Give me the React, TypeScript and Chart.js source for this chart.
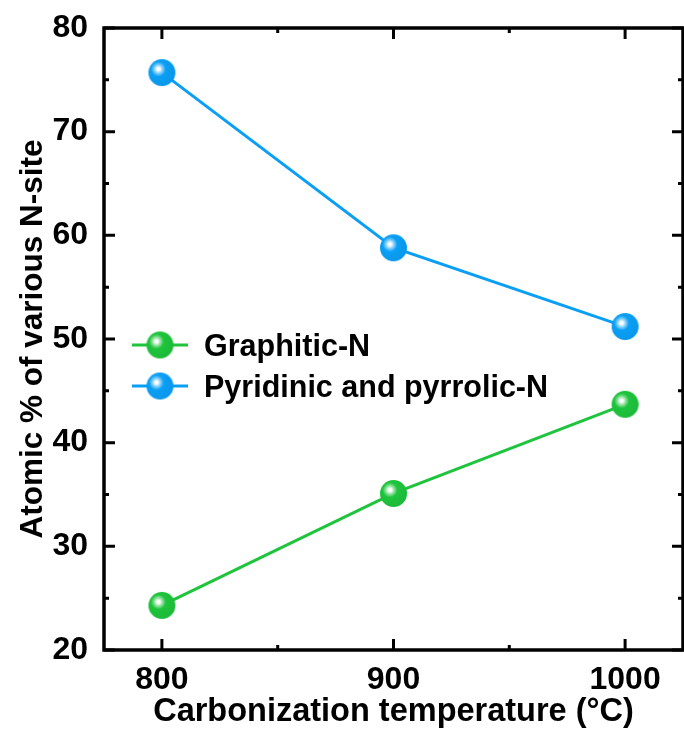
import React, { useEffect, useRef } from "react";
import { Chart, registerables } from "chart.js";

Chart.register(...registerables);

const temperatures = [800, 900, 1000];
const graphiticN = [24.3, 35.1, 43.7];
const pyridinicN = [75.7, 58.8, 51.2];
const seriesLabels = ["Graphitic-N", "Pyridinic and pyrrolic-N"];
const seriesColors = ["#1ec43c", "#0a9ff5"];
const xTickValues = [800, 900, 1000];
const xMinorTicks = [850, 950];
const yTickValues = [20, 30, 40, 50, 60, 70, 80];
const yMinorTicks = [25, 35, 45, 55, 65, 75];
const xTitle = "Carbonization temperature (\u00B0C)";
const yTitle = "Atomic % of various N-site";

const FONT = "'Liberation Sans', Arial, sans-serif";

function lighten(hex: string, amt: number) {
  const n = parseInt(hex.slice(1), 16);
  const r = (n >> 16) & 255, g = (n >> 8) & 255, b = n & 255;
  const f = (c: number) => Math.round(c + (255 - c) * amt);
  return `rgb(${f(r)},${f(g)},${f(b)})`;
}
function darken(hex: string, amt: number) {
  const n = parseInt(hex.slice(1), 16);
  const r = (n >> 16) & 255, g = (n >> 8) & 255, b = n & 255;
  const f = (c: number) => Math.round(c * (1 - amt));
  return `rgb(${f(r)},${f(g)},${f(b)})`;
}

function makeSphere(color: string, radius: number) {
  const size = Math.ceil(radius * 2 + 2);
  const c = document.createElement("canvas");
  c.width = size;
  c.height = size;
  const ctx = c.getContext("2d")!;
  const cx = size / 2, cy = size / 2;
  const g = ctx.createRadialGradient(cx - 3.5, cy - 3.5, 0, cx - 3.5, cy - 3.5, radius * 1.3);
  g.addColorStop(0, "#ffffff");
  g.addColorStop(0.08, "#ffffff");
  g.addColorStop(0.22, lighten(color, 0.55));
  g.addColorStop(0.42, color);
  g.addColorStop(1, darken(color, 0.05));
  ctx.fillStyle = g;
  ctx.beginPath();
  ctx.arc(cx, cy, radius, 0, Math.PI * 2);
  ctx.fill();
  return c;
}

function zeroPad(s: any) {
  s.paddingLeft = 0;
  s.paddingRight = 0;
  s.paddingTop = 0;
  s.paddingBottom = 0;
}

export default function App() {
  const ref = useRef<HTMLCanvasElement | null>(null);
  useEffect(() => {
    document.body.style.margin = "0";
    const canvas = ref.current!;
    const spheres = seriesColors.map((c) => makeSphere(c, 13.5));

    const framePlugin = {
      id: "frame",
      afterDraw(chart: any) {
        const { ctx, chartArea: a } = chart;
        const xs = chart.scales.x, ys = chart.scales.y;
        ctx.save();
        ctx.strokeStyle = "#000";
        ctx.lineWidth = 3;
        ctx.lineCap = "butt";
        const major = 11, minor = 5;
        ctx.beginPath();
        xTickValues.forEach((v) => {
          const p = xs.getPixelForValue(v);
          ctx.moveTo(p, a.bottom); ctx.lineTo(p, a.bottom - major);
          ctx.moveTo(p, a.top); ctx.lineTo(p, a.top + major);
        });
        xMinorTicks.forEach((v) => {
          const p = xs.getPixelForValue(v);
          ctx.moveTo(p, a.bottom); ctx.lineTo(p, a.bottom - minor);
          ctx.moveTo(p, a.top); ctx.lineTo(p, a.top + minor);
        });
        yTickValues.forEach((v) => {
          const p = ys.getPixelForValue(v);
          ctx.moveTo(a.left, p); ctx.lineTo(a.left + major, p);
          ctx.moveTo(a.right, p); ctx.lineTo(a.right - major, p);
        });
        yMinorTicks.forEach((v) => {
          const p = ys.getPixelForValue(v);
          ctx.moveTo(a.left, p); ctx.lineTo(a.left + minor, p);
          ctx.moveTo(a.right, p); ctx.lineTo(a.right - minor, p);
        });
        ctx.stroke();
        ctx.lineWidth = 3.5;
        ctx.strokeRect(a.left, a.top, a.right - a.left, a.bottom - a.top);

        // legend
        const lx0 = 132, lx1 = 188, lcx = 160;
        const ly = [345, 386];
        chart.data.datasets.forEach((ds: any, i: number) => {
          ctx.strokeStyle = ds.borderColor;
          ctx.lineWidth = 3;
          ctx.beginPath();
          ctx.moveTo(lx0, ly[i]);
          ctx.lineTo(lx1, ly[i]);
          ctx.stroke();
          const img = spheres[i];
          ctx.drawImage(img, lcx - img.width / 2, ly[i] - img.height / 2);
          ctx.fillStyle = "#000";
          ctx.font = `bold 30.5px ${FONT}`;
          ctx.textBaseline = "alphabetic";
          ctx.textAlign = "left";
          ctx.fillText(ds.label, 204, ly[i] + 11);
        });
        ctx.restore();
      },
    };

    const chart = new Chart(canvas, {
      type: "line",
      data: {
        datasets: [
          {
            label: seriesLabels[0],
            data: temperatures.map((t, i) => ({ x: t, y: graphiticN[i] })),
            borderColor: seriesColors[0],
            backgroundColor: seriesColors[0],
            borderWidth: 3,
            pointStyle: spheres[0] as any,
            pointRadius: 13,
          },
          {
            label: seriesLabels[1],
            data: temperatures.map((t, i) => ({ x: t, y: pyridinicN[i] })),
            borderColor: seriesColors[1],
            backgroundColor: seriesColors[1],
            borderWidth: 3,
            pointStyle: spheres[1] as any,
            pointRadius: 13,
          },
        ],
      },
      plugins: [framePlugin],
      options: {
        animation: false,
        responsive: false,
        maintainAspectRatio: false,
        layout: { autoPadding: false, padding: { top: 28, right: 1, left: 0, bottom: 0 } },
        plugins: { legend: { display: false }, tooltip: { enabled: false } },
        scales: {
          x: {
            type: "linear",
            min: 775,
            max: 1025,
            afterBuildTicks: (s: any) => {
              s.ticks = xTickValues.map((v) => ({ value: v }));
            },
            afterFit: (s: any) => {
              s.height = 92;
              zeroPad(s);
            },
            grid: { display: false, drawTicks: false },
            border: { display: false },
            ticks: {
              padding: 11,
              color: "#000",
              font: { family: FONT, size: 32, weight: "bold" },
              callback: (v: any) => String(v),
            },
            title: {
              display: true,
              text: xTitle,
              color: "#000",
              font: { family: FONT, size: 32.5, weight: "bold" },
              padding: { top: 0, bottom: 10 },
            },
          },
          y: {
            type: "linear",
            min: 20,
            max: 80,
            afterBuildTicks: (s: any) => {
              s.ticks = yTickValues.map((v) => ({ value: v }));
            },
            afterFit: (s: any) => {
              s.width = 104;
              zeroPad(s);
            },
            grid: { display: false, drawTicks: false },
            border: { display: false },
            ticks: {
              padding: 16,
              color: "#000",
              font: { family: FONT, size: 32, weight: "bold" },
              callback: (v: any) => String(v),
            },
            title: {
              display: true,
              text: yTitle,
              color: "#000",
              font: { family: FONT, size: 31.5, weight: "bold" },
              padding: { top: 14, bottom: 0 },
            },
          },
        },
      } as any,
    });
    return () => chart.destroy();
  }, []);
  return <canvas ref={ref} width={684} height={742} style={{ display: "block", width: 684, height: 742 }} />;
}
